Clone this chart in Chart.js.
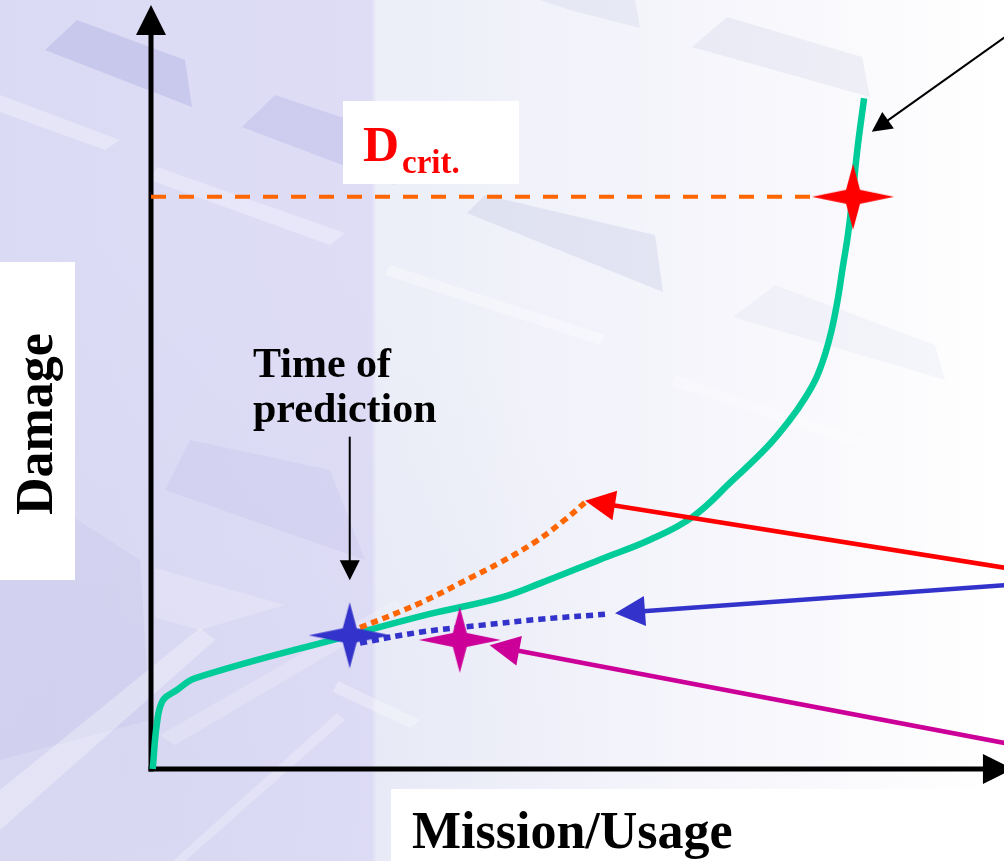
<!DOCTYPE html>
<html>
<head>
<meta charset="utf-8">
<title>Damage vs Mission/Usage</title>
<script src="https://cdn.jsdelivr.net/npm/chart.js@4.4.1/dist/chart.umd.min.js"></script>
<style>
  html, body { margin: 0; padding: 0; background: #ffffff; overflow: hidden; }
  canvas { display: block; }
</style>
</head>
<body>
<canvas id="c" width="1004" height="861"></canvas>
<script>
// ---- Damage growth curve (Mission/Usage on x, Damage on y) ----
const usage  = [0.2, 0.7, 1.4, 3.0, 5.2, 23.3, 32.7, 40.9, 45.6, 52.6, 58.5, 63.5, 68.2, 72.2, 74.9, 76.7, 78.0, 79.0, 79.8, 80.5, 81.1, 81.7, 82.2, 82.8, 83.6];
const damage = [0.0, 6.0, 9.0, 10.3, 11.9, 17.5, 20.3, 22.4, 24.3, 27.4, 30.0, 33.0, 37.8, 42.1, 45.7, 48.6, 51.2, 54.2, 57.5, 61.4, 65.7, 69.9, 74.5, 81.0, 87.8];

// critical damage level and the point where the curve reaches it
const dCrit = 74.9;
const failureUsage = 82.3;

// time of prediction
const predUsage = 23.3;
const predDamage = 17.5;

// pessimistic prediction (orange dotted)
const highPredUsage  = [24.5, 31.5, 37.4, 40.9, 45.0, 48.5, 51.2];
const highPredDamage = [18.5, 21.7, 25.0, 27.0, 29.7, 32.6, 35.2];

// optimistic prediction (blue dotted)
const lowPredUsage  = [24.5, 31.5, 38.6, 45.6, 53.8];
const lowPredDamage = [16.5, 17.9, 18.8, 19.6, 20.3];

// second estimate (magenta star)
const altUsage = 36.2;
const altDamage = 16.9;

// call-out arrows: [fromX, fromY, toX, toY]
const arrowRed     = [102.0, 26.0, 50.9, 35.1];
const arrowBlue    = [102.0, 24.2, 54.4, 20.4];
const arrowMagenta = [102.0, 3.0, 39.7, 16.2];
const arrowTop     = [102.0, 97.3, 84.5, 83.4];
const arrowTime    = [predUsage, 43.5, predUsage, 24.7];

// axis extents (arrow tips)
const xAxisEnd = 101.05;
const yAxisEnd = 100;

const zip = (xs, ys) => xs.map((x, i) => ({ x, y: ys[i] }));

// four-pointed star used as point marker
function makeStar(color) {
  const w = 86, h = 70;
  const cv = document.createElement('canvas');
  cv.width = w; cv.height = h;
  const g = cv.getContext('2d');
  const cx = w / 2, cy = h / 2, rx = 41, ry = 33, k = 7;
  g.fillStyle = color;
  g.beginPath();
  g.moveTo(cx + rx, cy);
  g.lineTo(cx + k, cy - k);
  g.lineTo(cx, cy - ry);
  g.lineTo(cx - k, cy - k);
  g.lineTo(cx - rx, cy);
  g.lineTo(cx - k, cy + k);
  g.lineTo(cx, cy + ry);
  g.lineTo(cx + k, cy + k);
  g.closePath();
  g.fill();
  return cv;
}

// slide backdrop: lavender band with faint block pattern
const backdrop = {
  id: 'backdrop',
  beforeDraw(chart) {
    const ctx = chart.ctx;
    const W = chart.width, H = chart.height;
    ctx.save();
    let gr = ctx.createLinearGradient(0, 0, W, 0);
    gr.addColorStop(0, '#dbdaf4');
    gr.addColorStop(0.37, '#dfddf6');
    gr.addColorStop(0.375, '#eceef8');
    gr.addColorStop(0.75, '#f7f7fc');
    gr.addColorStop(1, '#ffffff');
    ctx.fillStyle = gr;
    ctx.fillRect(0, 0, W, H);
    // soft cool shading toward the bottom left
    gr = ctx.createRadialGradient(150, 760, 20, 150, 760, 520);
    gr.addColorStop(0, 'rgba(205,205,235,0.25)');
    gr.addColorStop(1, 'rgba(205,205,235,0)');
    ctx.fillStyle = gr;
    ctx.fillRect(0, 0, W, H);

    const poly = (pts, fill) => {
      ctx.fillStyle = fill;
      ctx.beginPath();
      ctx.moveTo(pts[0][0], pts[0][1]);
      for (let i = 1; i < pts.length; i++) ctx.lineTo(pts[i][0], pts[i][1]);
      ctx.closePath();
      ctx.fill();
    };
    // shadowed faces
    poly([[77, 20], [185, 60], [192, 107], [45, 50]], 'rgba(150,150,215,0.28)');
    poly([[275, 95], [380, 130], [395, 185], [242, 127]], 'rgba(150,150,215,0.22)');
    poly([[485, 195], [655, 235], [663, 292], [467, 213]], 'rgba(170,175,215,0.22)');
    poly([[727, 17], [862, 57], [870, 97], [692, 47]], 'rgba(180,185,215,0.18)');
    poly([[775, 285], [935, 345], [945, 380], [733, 317]], 'rgba(190,195,220,0.12)');
    poly([[540, 0], [635, 0], [640, 28], [570, 10]], 'rgba(180,185,215,0.18)');
    poly([[190, 440], [330, 470], [365, 560], [165, 490]], 'rgba(160,160,210,0.12)');
    poly([[0, 470], [140, 560], [150, 720], [0, 760]], 'rgba(165,165,210,0.12)');
    // lit edges
    poly([[0, 95], [120, 140], [105, 150], [0, 112]], 'rgba(255,255,255,0.3)');
    poly([[157, 167], [345, 233], [330, 245], [150, 180]], 'rgba(255,255,255,0.3)');
    poly([[0, 790], [200, 628], [215, 640], [0, 830]], 'rgba(255,255,255,0.3)');
    poly([[160, 735], [395, 600], [405, 610], [175, 745]], 'rgba(255,255,255,0.2)');
    poly([[173, 861], [337, 713], [345, 720], [185, 861]], 'rgba(255,255,255,0.25)');
    poly([[155, 568], [285, 605], [200, 630], [155, 618]], 'rgba(255,255,255,0.2)');
    poly([[338, 681], [420, 720], [410, 728], [333, 692]], 'rgba(255,255,255,0.3)');
    poly([[390, 265], [605, 335], [600, 345], [385, 275]], 'rgba(255,255,255,0.35)');
    poly([[675, 375], [870, 440], [865, 450], [670, 385]], 'rgba(255,255,255,0.3)');
    ctx.restore();
  }
};

function drawArrow(ctx, x1, y1, x2, y2, color, width, headLen, headHalf) {
  const a = Math.atan2(y2 - y1, x2 - x1);
  const bx = x2 - headLen * Math.cos(a), by = y2 - headLen * Math.sin(a);
  ctx.strokeStyle = color;
  ctx.fillStyle = color;
  ctx.lineWidth = width;
  ctx.lineCap = 'butt';
  ctx.setLineDash([]);
  ctx.beginPath();
  ctx.moveTo(x1, y1);
  ctx.lineTo(bx + Math.cos(a) * 2, by + Math.sin(a) * 2);
  ctx.stroke();
  ctx.beginPath();
  ctx.moveTo(x2, y2);
  ctx.lineTo(bx + headHalf * Math.sin(a), by - headHalf * Math.cos(a));
  ctx.lineTo(bx - headHalf * Math.sin(a), by + headHalf * Math.cos(a));
  ctx.closePath();
  ctx.fill();
}

// axes with arrow heads, call-out arrows and text labels
const overlay = {
  id: 'overlay',
  beforeDatasetsDraw(chart) {
    const ctx = chart.ctx, xs = chart.scales.x, ys = chart.scales.y;
    const x0 = xs.getPixelForValue(0), y0 = ys.getPixelForValue(0);
    ctx.save();
    drawArrow(ctx, x0, y0 + 2.5, x0, ys.getPixelForValue(yAxisEnd), '#000000', 5, 30, 15);
    drawArrow(ctx, x0 - 2.5, y0, xs.getPixelForValue(xAxisEnd), y0, '#000000', 5, 30, 15);
    ctx.restore();
  },
  afterDatasetsDraw(chart) {
    const ctx = chart.ctx, xs = chart.scales.x, ys = chart.scales.y;
    const P = (a) => [xs.getPixelForValue(a[0]), ys.getPixelForValue(a[1]), xs.getPixelForValue(a[2]), ys.getPixelForValue(a[3])];
    ctx.save();
    drawArrow(ctx, ...P(arrowRed), '#ff0000', 4.5, 30, 15);
    drawArrow(ctx, ...P(arrowBlue), '#3333cc', 4.5, 30, 15);
    drawArrow(ctx, ...P(arrowMagenta), '#cc0099', 4.5, 30, 15);
    drawArrow(ctx, ...P(arrowTop), '#000000', 2, 20, 10);
    drawArrow(ctx, ...P(arrowTime), '#000000', 2, 20, 10);

    const serif = '"Liberation Serif", "Times New Roman", serif';
    ctx.fillStyle = '#ffffff';
    ctx.fillRect(343, 101, 176, 83);   // D crit label box
    ctx.fillRect(0, 262, 75, 318);     // y title box
    ctx.fillRect(391, 789, 613, 72);   // x title box

    ctx.textAlign = 'left';
    ctx.textBaseline = 'alphabetic';
    ctx.fillStyle = '#ff0000';
    ctx.font = 'bold 50px ' + serif;
    ctx.fillText('D', 363, 161);
    ctx.font = 'bold 33px ' + serif;
    ctx.fillText('crit.', 402, 173);

    ctx.fillStyle = '#000000';
    ctx.font = 'bold 42px ' + serif;
    ctx.fillText('Time of', 253, 377);
    ctx.fillText('prediction', 253, 422);

    ctx.font = 'bold 52px ' + serif;
    ctx.fillText('Mission/Usage', 412, 848);

    ctx.save();
    ctx.translate(52, 515);
    ctx.rotate(-Math.PI / 2);
    ctx.fillText('Damage', 0, 0);
    ctx.restore();
    ctx.restore();
  }
};

new Chart(document.getElementById('c'), {
  type: 'scatter',
  data: {
    datasets: [
      {
        label: 'Failure',
        data: [{ x: failureUsage, y: dCrit }],
        pointStyle: makeStar('#ff0000'), pointRadius: 20, order: 0
      },
      {
        label: 'Prediction time',
        data: [{ x: predUsage, y: predDamage }],
        pointStyle: makeStar('#3333cc'), pointRadius: 20, order: 0
      },
      {
        label: 'Estimate',
        data: [{ x: altUsage, y: altDamage }],
        pointStyle: makeStar('#cc0099'), pointRadius: 20, order: 0
      },
      {
        label: 'High prediction',
        data: zip(highPredUsage, highPredDamage),
        showLine: true, borderColor: '#ff6600', borderWidth: 5.5,
        borderDash: [7, 5], borderCapStyle: 'butt', pointRadius: 0,
        tension: 0.4, order: 1
      },
      {
        label: 'Low prediction',
        data: zip(lowPredUsage, lowPredDamage),
        showLine: true, borderColor: '#3333cc', borderWidth: 5.5,
        borderDash: [7, 5], borderCapStyle: 'butt', pointRadius: 0,
        tension: 0.4, order: 1
      },
      {
        label: 'Damage',
        data: zip(usage, damage),
        showLine: true, borderColor: '#00cc99', borderWidth: 6.5,
        borderJoinStyle: 'round', pointRadius: 0,
        tension: 0.4, order: 2
      },
      {
        label: 'D crit',
        data: [{ x: 0, y: dCrit }, { x: failureUsage, y: dCrit }],
        showLine: true, borderColor: '#ff6600', borderWidth: 4,
        borderDash: [15, 13], borderCapStyle: 'butt', pointRadius: 0, order: 3
      }
    ]
  },
  options: {
    responsive: false,
    animation: false,
    events: [],
    layout: { autoPadding: false, padding: { left: 151, top: 5, right: 0, bottom: 92 } },
    scales: {
      x: { type: 'linear', min: 0, max: 100, display: false },
      y: { type: 'linear', min: 0, max: 100, display: false }
    },
    plugins: { legend: { display: false }, tooltip: { enabled: false } },
    clip: false
  },
  plugins: [backdrop, overlay]
});
</script>
</body>
</html>
